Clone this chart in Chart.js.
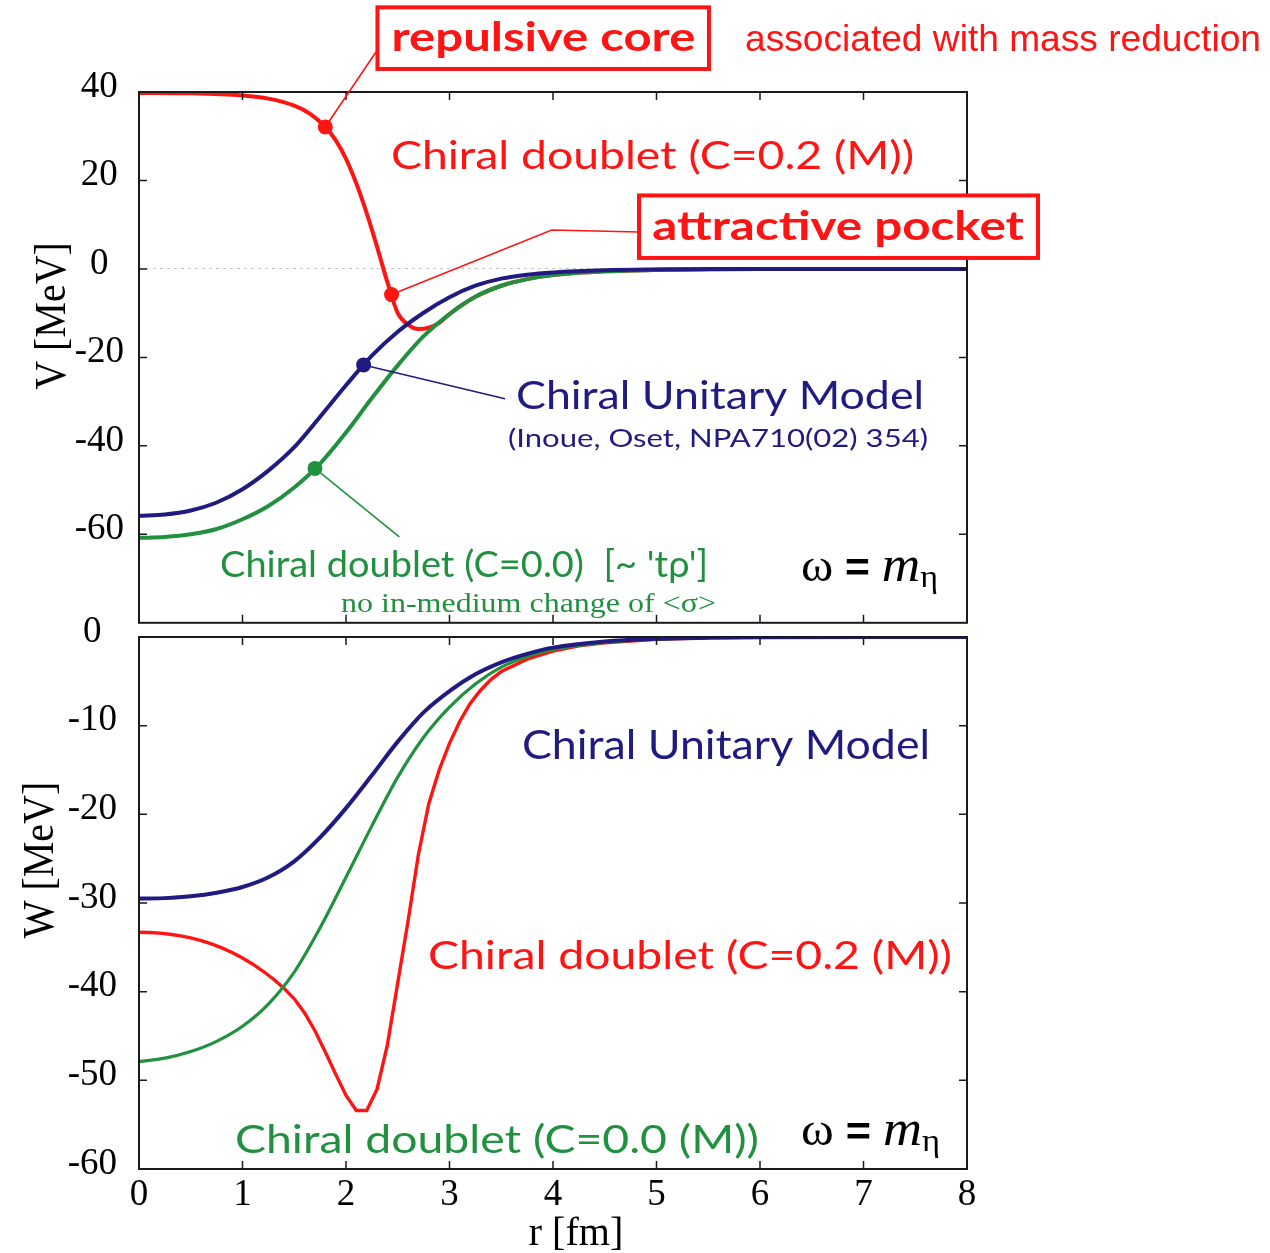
<!DOCTYPE html>
<html>
<head>
<meta charset="utf-8">
<title>eta-nucleus optical potential</title>
<script src="https://cdn.jsdelivr.net/npm/chart.js@4.4.1/dist/chart.umd.min.js"></script>
<style>
  html, body { margin: 0; padding: 0; background: #fff; }
  #wrap { position: relative; width: 1270px; height: 1253px; overflow: hidden; }
  canvas { position: absolute; left: 0; }
  #topPanel { top: 0; }
  #bottomPanel { top: 590px; }
</style>
</head>
<body>
<div id="wrap">
  <canvas id="topPanel" width="1270" height="660"></canvas>
  <canvas id="bottomPanel" width="1270" height="663"></canvas>
</div>
<script>
// Real (V) and imaginary (W) parts of the eta-nucleus potential vs r

const RED = '#ff1414';
const NAVY = '#211a80';
const GREEN = '#21913f';

// radius grid [fm] for the smooth curves
const radius = [0, 0.25, 0.5, 0.75, 1, 1.25, 1.5, 1.75, 2, 2.25, 2.5, 2.75, 3, 3.25, 3.5, 3.75, 4, 4.5, 5, 5.5, 6, 7, 8];

// V [MeV]
const vUnitary   = [-55.8, -55.5, -54.6, -52.8, -49.8, -45.6, -40.3, -33.4, -26.3, -19.6, -14.2, -9.9, -6.4, -3.8, -2.2, -1.3, -0.8, -0.3, -0.12, -0.04, 0, 0, 0];
const vDoublet00 = [-60.8, -60.6, -60.0, -58.8, -56.6, -53.6, -49.4, -44.0, -37.0, -29.2, -21.8, -15.2, -10.2, -6.3, -3.8, -2.3, -1.4, -0.55, -0.2, -0.07, -0.02, 0, 0];

const radiusCore = [0, 0.5, 1, 1.25, 1.5, 1.65, 1.8, 1.9, 2, 2.1, 2.2, 2.3, 2.4, 2.5, 2.6, 2.7, 2.8, 2.9, 3, 3.25, 3.5, 3.75, 4, 4.5, 5, 5.5, 6, 7, 8];
const vDoublet02 = [39.8, 39.7, 39.2, 38.5, 36.9, 35.1, 32.1, 29.1, 24.9, 19.3, 12.6, 5.0, -3.0, -10.0, -12.6, -13.6, -13.3, -12.2, -10.2, -6.3, -3.8, -2.3, -1.4, -0.55, -0.2, -0.07, -0.02, 0, 0];

// W [MeV]
const wUnitary   = [-29.5, -29.45, -29.25, -28.85, -28.2, -27.1, -25.3, -22.6, -19.3, -15.6, -11.8, -8.5, -6.1, -4.2, -2.85, -1.9, -1.2, -0.5, -0.2, -0.07, -0.02, 0, 0];
const wDoublet00 = [-47.9, -47.5, -46.75, -45.6, -43.9, -41.4, -37.8, -32.8, -27.1, -21.3, -15.8, -11.3, -7.9, -5.3, -3.4, -2.2, -1.4, -0.6, -0.25, -0.1, -0.03, 0, 0];

const radiusFine = [0, 0.1, 0.2, 0.3, 0.4, 0.5, 0.6, 0.7, 0.8, 0.9, 1.0, 1.1, 1.2, 1.3, 1.4, 1.5, 1.6, 1.7, 1.8, 1.9,
                    2.0, 2.1, 2.2, 2.3, 2.4, 2.5, 2.6, 2.7, 2.8, 2.9, 3.0, 3.1, 3.2, 3.3, 3.4, 3.5, 3.75, 4, 4.25, 4.5, 5, 5.5, 6, 7, 8];
const wDoublet02 = [-33.3, -33.33, -33.4, -33.52, -33.7, -33.94, -34.24, -34.61, -35.06, -35.59, -36.2, -36.9, -37.7, -38.6, -39.6, -40.8, -42.4, -44.4, -46.8, -49.3,
                    -51.7, -53.4, -53.4, -51.0, -46.0, -39.0, -32.0, -24.5, -18.8, -15.0, -12.0, -9.5, -7.5, -6.0, -4.8, -3.9, -2.5, -1.6, -1.0, -0.65, -0.25, -0.1, -0.03, 0, 0];

// highlighted points on the V curves
const markR = [1.8, 2.44, 2.17, 1.70];
const markV = [32.1, -5.8, -21.7, -45.1];
const markColor = [RED, RED, NAVY, GREEN];

// axis ticks
const rTicks = [0, 1, 2, 3, 4, 5, 6, 7, 8];
const vTicks = [-60, -40, -20, 0, 20, 40];
const wTicks = [-60, -50, -40, -30, -20, -10, 0];

const SANS = 'Lato';
const SERIF = '"Liberation Serif"';

function curve(label, xs, ys, color, width, smooth) {
    return {
        label: label,
        data: xs.map((x, i) => ({ x: x, y: ys[i] })),
        borderColor: color,
        borderWidth: width,
        pointRadius: 0,
        pointHoverRadius: 0,
        fill: false,
        tension: 0,
        cubicInterpolationMode: smooth ? 'monotone' : 'default'
    };
}

function at(chart, r, v) {
    return { x: chart.scales.x.getPixelForValue(r), y: chart.scales.y.getPixelForValue(v) };
}

// text squeezed/stretched to run from r0 to r1, baseline at v
function fitText(ctx, chart, item) {
    const a = at(chart, item.r[0], item.v);
    const b = at(chart, item.r[1], item.v);
    ctx.save();
    ctx.font = item.font;
    ctx.fillStyle = item.color;
    ctx.textAlign = 'left';
    ctx.textBaseline = 'alphabetic';
    const w = ctx.measureText(item.text).width;
    ctx.translate(a.x, a.y);
    ctx.scale((b.x - a.x) / w, 1);
    ctx.fillText(item.text, 0, 0);
    ctx.restore();
}

// "ω = m_η"
function drawOmega(ctx, chart, r0, r1, v) {
    const parts = [
        { t: 'ω', font: '46px ' + SERIF, dy: 0 },
        { t: ' = ', font: 'bold 40px "Liberation Sans"', dy: 0 },
        { t: 'm', font: 'italic 50px ' + SERIF, dy: 0 },
        { t: 'η', font: '32px ' + SERIF, dy: 6 }
    ];
    const a = at(chart, r0, v);
    const b = at(chart, r1, v);
    ctx.save();
    ctx.fillStyle = '#000';
    ctx.textBaseline = 'alphabetic';
    let total = 0;
    parts.forEach(p => { ctx.font = p.font; p.w = ctx.measureText(p.t).width; total += p.w; });
    ctx.translate(a.x, a.y);
    ctx.scale((b.x - a.x) / total, 1);
    let x = 0;
    parts.forEach(p => { ctx.font = p.font; ctx.fillText(p.t, x, p.dy); x += p.w; });
    ctx.restore();
}

function drawLeader(ctx, chart, pts, color) {
    ctx.save();
    ctx.strokeStyle = color;
    ctx.lineWidth = 1.6;
    ctx.beginPath();
    pts.forEach((p, i) => {
        const q = at(chart, p[0], p[1]);
        if (i === 0) ctx.moveTo(q.x, q.y); else ctx.lineTo(q.x, q.y);
    });
    ctx.stroke();
    ctx.restore();
}

function drawBox(ctx, chart, box) {
    const a = at(chart, box.r[0], box.v[0]);
    const b = at(chart, box.r[1], box.v[1]);
    ctx.save();
    ctx.strokeStyle = RED;
    ctx.lineWidth = 4;
    ctx.fillStyle = '#fff';
    ctx.fillRect(a.x, a.y, b.x - a.x, b.y - a.y);
    ctx.strokeRect(a.x, a.y, b.x - a.x, b.y - a.y);
    ctx.restore();
}

function axisTitle(ctx, text, x, y, rotate) {
    ctx.save();
    ctx.font = '40px ' + SERIF;
    ctx.fillStyle = '#000';
    ctx.textAlign = 'center';
    ctx.textBaseline = 'alphabetic';
    ctx.translate(x, y);
    if (rotate) { ctx.rotate(-Math.PI / 2); ctx.scale(1, 1.12); }
    ctx.fillText(text, 0, 0);
    ctx.restore();
}

// plot frame with inward tick marks on all four sides
const framePlugin = {
    id: 'frame',
    afterDatasetsDraw(chart) {
        const { ctx, chartArea: a, scales: { x, y } } = chart;
        const len = 8;
        ctx.save();
        ctx.strokeStyle = '#1a1a1a';
        ctx.lineWidth = 1.5;
        ctx.beginPath();
        x.ticks.forEach(t => {
            const px = x.getPixelForValue(t.value);
            if (px <= a.left + 1 || px >= a.right - 1) return;
            ctx.moveTo(px, a.top); ctx.lineTo(px, a.top + len);
            ctx.moveTo(px, a.bottom); ctx.lineTo(px, a.bottom - len);
        });
        y.ticks.forEach(t => {
            const py = y.getPixelForValue(t.value);
            if (py <= a.top + 1 || py >= a.bottom - 1) return;
            ctx.moveTo(a.left, py); ctx.lineTo(a.left + len, py);
            ctx.moveTo(a.right, py); ctx.lineTo(a.right - len, py);
        });
        ctx.stroke();
        ctx.lineWidth = 2;
        ctx.strokeRect(a.left, a.top, a.right - a.left, a.bottom - a.top);
        ctx.restore();
    }
};

const topNotes = {
    id: 'topNotes',
    afterDraw(chart) {
        const ctx = chart.ctx;
        drawLeader(ctx, chart, [[markR[0], markV[0]], [2.29, 49.05]], RED);
        drawLeader(ctx, chart, [[markR[1], markV[1]], [3.988, 8.8], [4.831, 8.35]], RED);
        drawLeader(ctx, chart, [[markR[2], markV[2]], [3.536, -29.35]], NAVY);
        drawLeader(ctx, chart, [[markR[3], markV[3]], [2.515, -60.59]], GREEN);
        drawBox(ctx, chart, { r: [2.304, 5.507], v: [59.14, 45.21] });
        drawBox(ctx, chart, { r: [4.831, 8.686], v: [16.61, 2.48] });
        [
            { text: 'repulsive core', r: [2.44, 5.375], v: 49.35, font: 'bold 40px ' + SANS, color: RED },
            { text: 'associated with mass reduction', r: [5.855, 10.84], v: 49.35, font: '36px "Liberation Sans"', color: RED },
            { text: 'Chiral doublet (C=0.2 (M))', r: [2.435, 7.488], v: 22.57, font: '38px ' + SANS, color: RED },
            { text: 'attractive pocket', r: [4.96, 8.55], v: 6.46, font: 'bold 41px ' + SANS, color: RED },
            { text: 'Chiral Unitary Model', r: [3.643, 7.585], v: -31.6, font: '38px ' + SANS, color: NAVY },
            { text: '(Inoue, Oset, NPA710(02) 354)', r: [3.565, 7.623], v: -40.27, font: '25px ' + SANS, color: NAVY },
            { text: "Chiral doublet (C=0.0)  [~ 'tρ']", r: [0.783, 5.498], v: -69.62, font: '36px ' + SANS, color: GREEN },
            { text: 'no in-medium change of <σ>', r: [1.952, 5.575], v: -77.65, font: '27px ' + SERIF, color: GREEN }
        ].forEach(item => fitText(ctx, chart, item));
        drawOmega(ctx, chart, 6.396, 7.72, -70.52);
        axisTitle(ctx, 'V [MeV]', 65, 316, true);
    }
};

const bottomNotes = {
    id: 'bottomNotes',
    afterDraw(chart) {
        const ctx = chart.ctx;
        [
            { text: 'Chiral Unitary Model', r: [3.70, 7.643], v: -13.79, font: '40px ' + SANS, color: NAVY },
            { text: 'Chiral doublet (C=0.2 (M))', r: [2.792, 7.855], v: -37.48, font: '39px ' + SANS, color: RED },
            { text: 'Chiral doublet (C=0.0 (M))', r: [0.928, 5.99], v: -58.23, font: '39px ' + SANS, color: GREEN }
        ].forEach(item => fitText(ctx, chart, item));
        drawOmega(ctx, chart, 6.396, 7.74, -57.29);
        axisTitle(ctx, 'W [MeV]', 53, 270, true);
        axisTitle(ctx, 'r [fm]', 576, 655, false);
    }
};

function xScale(showLabels, height) {
    return {
        type: 'linear', min: 0, max: 8,
        afterBuildTicks: s => { s.ticks = rTicks.map(v => ({ value: v })); },
        afterFit: s => { s.height = height; },
        ticks: { display: showLabels, padding: 0, color: '#000', font: { family: 'Liberation Serif', size: 37, lineHeight: 1 } },
        grid: { display: false },
        border: { display: false }
    };
}

function yScale(min, max, ticks, pad, zeroLine) {
    return {
        type: 'linear', min: min, max: max,
        afterBuildTicks: s => { s.ticks = ticks.map(v => ({ value: v })); },
        afterFit: s => { s.width = 139; },
        ticks: { crossAlign: 'center', padding: pad, labelOffset: -5, color: '#000', font: { family: 'Liberation Serif', size: 37 } },
        grid: {
            display: zeroLine,
            drawTicks: false,
            lineWidth: 1,
            color: c => (c.tick && c.tick.value === 0 ? '#c4c4c4' : 'rgba(0,0,0,0)')
        },
        border: { display: false, dash: [3, 4] }
    };
}

function markers() {
    return {
        label: 'markers',
        data: markR.map((r, i) => ({ x: r, y: markV[i] })),
        showLine: false,
        pointRadius: 7.5,
        pointBorderWidth: 0,
        pointBackgroundColor: markColor,
        pointBorderColor: markColor
    };
}

const common = {
    responsive: false,
    animation: false,
    events: [],
    plugins: { legend: { display: false }, tooltip: { enabled: false } }
};

new Chart(document.getElementById('topPanel'), {
    type: 'line',
    data: {
        datasets: [
            markers(),
            curve('Chiral Unitary Model', radius, vUnitary, NAVY, 4, true),
            curve('Chiral doublet (C=0.0)', radius, vDoublet00, GREEN, 4, true),
            curve('Chiral doublet (C=0.2 (M))', radiusCore, vDoublet02, RED, 4, true)
        ]
    },
    options: Object.assign({}, common, {
        layout: { padding: { left: 0, right: 303, top: 92, bottom: 36 } },
        scales: { x: xScale(false, 0), y: yScale(-80, 40, vTicks, 15, true) }
    }),
    plugins: [framePlugin, topNotes]
});

new Chart(document.getElementById('bottomPanel'), {
    type: 'line',
    data: {
        datasets: [
            curve('Chiral Unitary Model', radius, wUnitary, NAVY, 4, true),
            curve('Chiral doublet (C=0.0 (M))', radius, wDoublet00, GREEN, 3.2, true),
            curve('Chiral doublet (C=0.2 (M))', radiusFine, wDoublet02, RED, 3.4, false)
        ]
    },
    options: Object.assign({}, common, {
        layout: { padding: { left: 0, right: 303, top: 47, bottom: 0 } },
        scales: { x: xScale(true, 84), y: yScale(-60, 0, wTicks, 22, false) }
    }),
    plugins: [framePlugin, bottomNotes]
});
</script>
</body>
</html>
